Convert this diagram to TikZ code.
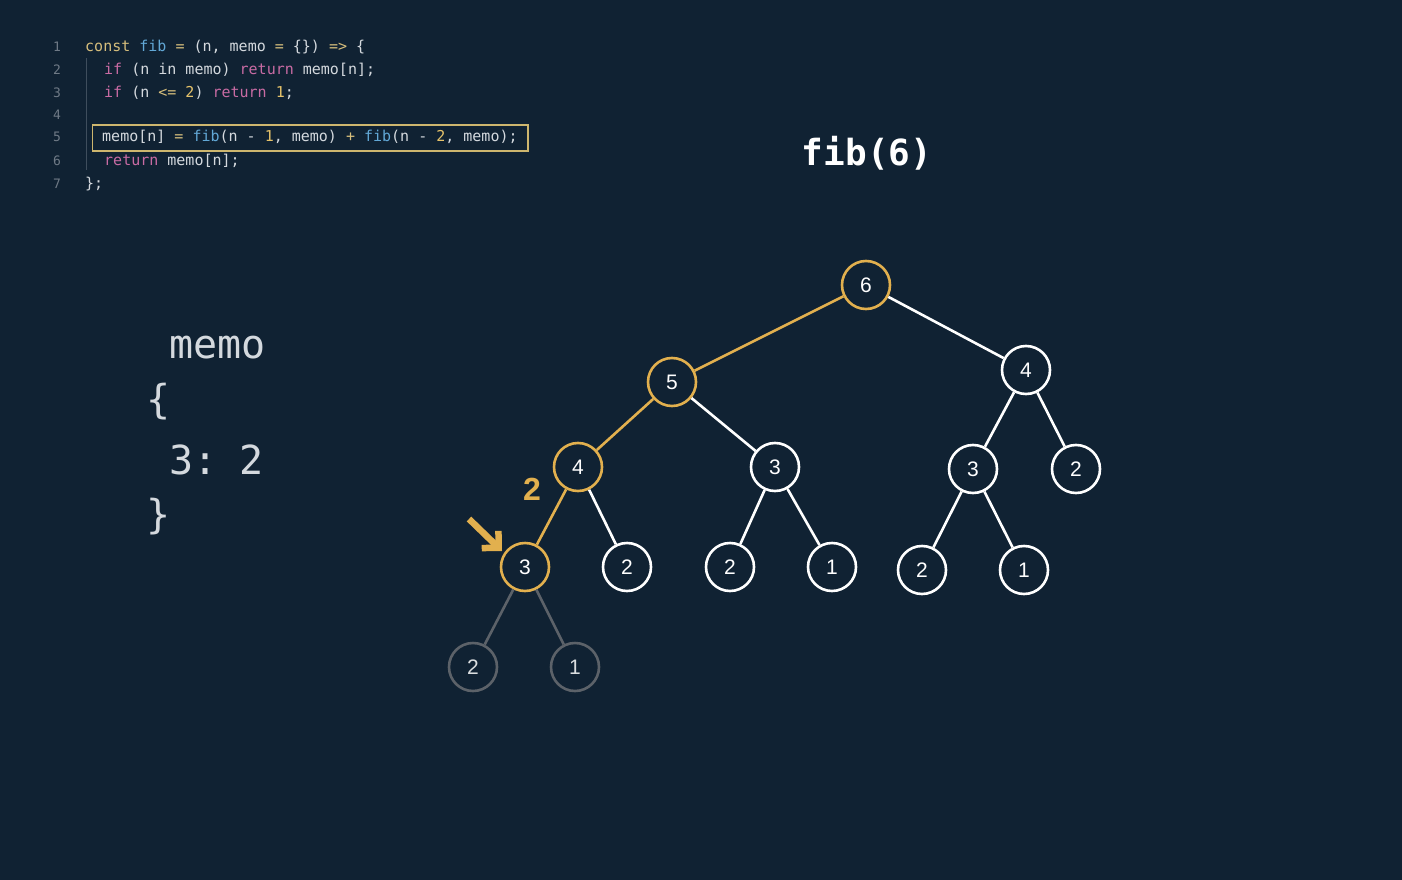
\documentclass[tikz,border=0pt]{standalone}
\usepackage{fontspec}
\setmainfont{Liberation Sans}
\setmonofont{DejaVu Sans Mono}
\usetikzlibrary{arrows.meta}
\definecolor{bg}{HTML}{102233}
\definecolor{gold}{HTML}{E2B04E}
\definecolor{dimgray}{HTML}{5C6269}
\definecolor{codetxt}{HTML}{D4D9DE}
\definecolor{kw}{HTML}{C86BA3}
\definecolor{fn}{HTML}{62A8D6}
\definecolor{tan}{HTML}{D6BE7C}
\definecolor{num}{HTML}{E5C26A}
\definecolor{lnum}{HTML}{6F7A86}
\definecolor{hlbox}{HTML}{CDB66E}
\newcommand{\K}[1]{\textcolor{kw}{#1}}
\newcommand{\F}[1]{\textcolor{fn}{#1}}
\newcommand{\T}[1]{\textcolor{tan}{#1}}
\newcommand{\N}[1]{\textcolor{num}{#1}}
\begin{document}
\begin{tikzpicture}[x=1pt,y=-1pt,
  codeline/.style={anchor=base west,inner sep=0pt,text=codetxt,font=\ttfamily\fontsize{15}{15}\selectfont},
  lineno/.style={anchor=base,inner sep=0pt,text=lnum,font=\ttfamily\fontsize{13}{13}\selectfont},
  memotxt/.style={anchor=base west,inner sep=0pt,text=codetxt,font=\ttfamily\fontsize{40}{40}\selectfont},
  tnode/.style={circle,minimum size=48pt,inner sep=0pt,line width=2.6pt,fill=bg,text=white,font=\fontsize{21}{21}\selectfont},
  wnode/.style={tnode,draw=white},
  gnode/.style={tnode,draw=gold},
  dnode/.style={tnode,draw=dimgray,text=white!85!bg},
  wedge/.style={draw=white,line width=2.6pt},
  gedge/.style={draw=gold,line width=2.6pt},
  dedge/.style={draw=dimgray,line width=2.6pt}]
\useasboundingbox (0,0) rectangle (1402,880);
\fill[bg] (0,0) rectangle (1402,880);

% code
\foreach \i/\y in {1/52,2/75,3/98,4/120,5/142,6/165,7/188}
  \node[lineno] (ln\i) at (57,\y) {\i};
\draw[lnum!50!bg,line width=0.8pt] (86,58) -- (86,170);
\node[codeline] (c1) at (85,52) {\T{const} \F{fib} \T{=} (n, memo \T{=} \{\}) \T{=>} \{};
\node[codeline] (c2) at (104,75) {\K{if} (n in memo) \K{return} memo[n];};
\node[codeline] (c3) at (104,98) {\K{if} (n \T{<=} \N{2}) \K{return} \N{1};};
\node[codeline] (c5) at (102,142) {memo[n] \T{=} \F{fib}(n - \N{1}, memo) \T{+} \F{fib}(n - \N{2}, memo);};
\node[codeline] (c6) at (104,165) {\K{return} memo[n];};
\node[codeline] (c7) at (85,188) {\};};
\draw[hlbox,line width=1.6pt] (92.5,125) rectangle (528,151);

% title
\node[anchor=base,inner sep=0pt,text=white,font=\ttfamily\bfseries\fontsize{36}{36}\selectfont] (title) at (867,165) {fib(6)};

% memo
\node[memotxt] (memo) at (169,358) {memo};
\node[memotxt] (ob) at (146,413) {\{};
\node[memotxt] (entry) at (169,474) {3:\hspace{-2pt} 2};
\node[memotxt] (cb) at (146,528) {\}};

% tree nodes
\node[gnode] (n6) at (866,285) {6};
\node[gnode] (n5) at (672,382) {5};
\node[wnode] (n4r) at (1026,370) {4};
\node[gnode] (n4l) at (578,467) {4};
\node[wnode] (n3a) at (775,467) {3};
\node[wnode] (n3b) at (973,469) {3};
\node[wnode] (n2a) at (1076,469) {2};
\node[gnode] (n3c) at (525,567) {3};
\node[wnode] (n2b) at (627,567) {2};
\node[wnode] (n2c) at (730,567) {2};
\node[wnode] (n1a) at (832,567) {1};
\node[wnode] (n2d) at (922,570) {2};
\node[wnode] (n1b) at (1024,570) {1};
\node[dnode] (n2e) at (473,667) {2};
\node[dnode] (n1c) at (575,667) {1};

% edges
\path[gedge] (n6) -- (n5);
\path[wedge] (n6) -- (n4r);
\path[gedge] (n5) -- (n4l);
\path[wedge] (n5) -- (n3a);
\path[wedge] (n4r) -- (n3b);
\path[wedge] (n4r) -- (n2a);
\path[gedge] (n4l) -- (n3c);
\path[wedge] (n4l) -- (n2b);
\path[wedge] (n3a) -- (n2c);
\path[wedge] (n3a) -- (n1a);
\path[wedge] (n3b) -- (n2d);
\path[wedge] (n3b) -- (n1b);
\path[dedge] (n3c) -- (n2e);
\path[dedge] (n3c) -- (n1c);

% return value label and pointer arrow
\node[text=gold,font=\bfseries\fontsize{32}{32}\selectfont,inner sep=0pt] (ret) at (532,489) {2};
\coordinate (arrS) at (469,519);
\coordinate (arrE) at (502,551);
\draw[gold,line width=6.5pt,-{Straight Barb[length=12pt,width=24pt,line width=6.5pt]}] (arrS) -- (arrE);
\end{tikzpicture}
\end{document}
